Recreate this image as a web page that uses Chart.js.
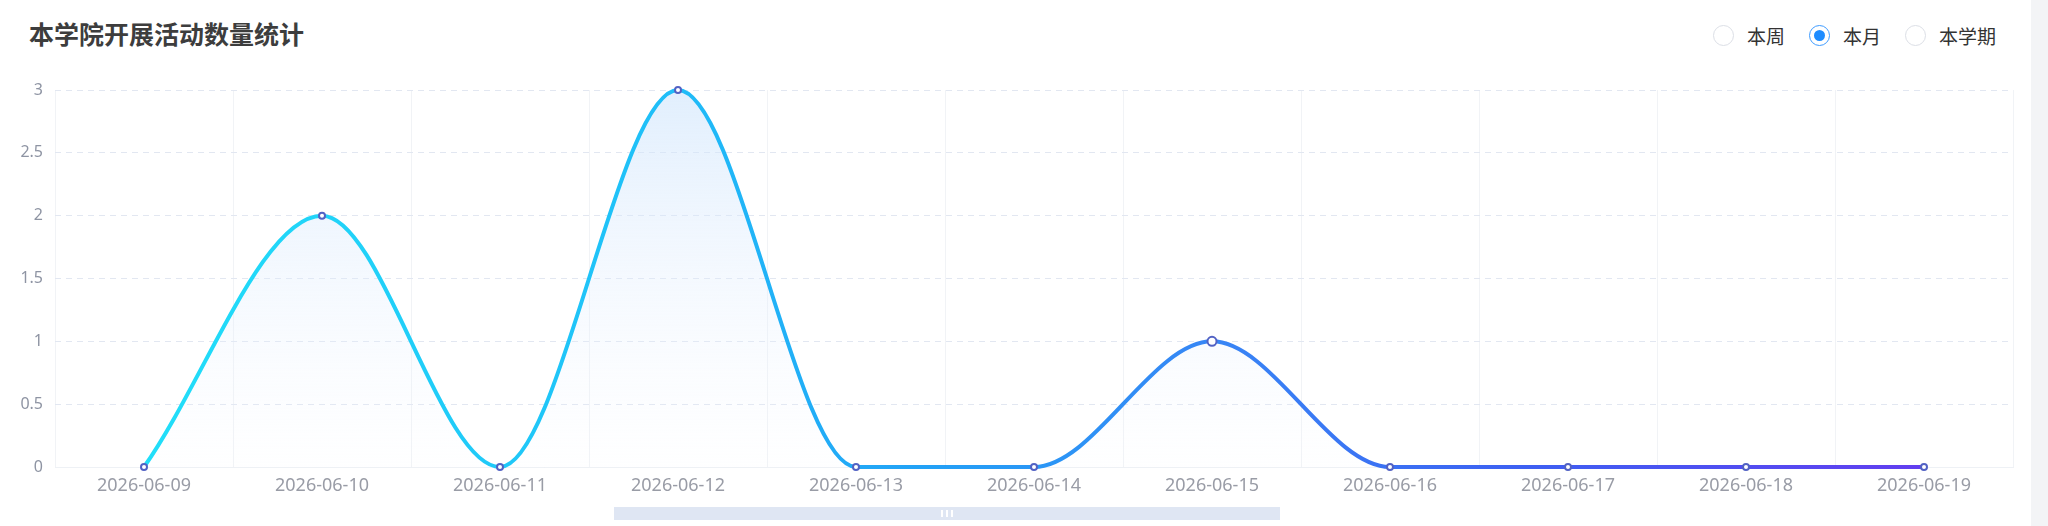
<!DOCTYPE html>
<html>
<head>
<meta charset="utf-8">
<title>本学院开展活动数量统计</title>
<script src="https://cdn.jsdelivr.net/npm/chart.js@4.4.1/dist/chart.umd.min.js"></script>
<style>
    html, body {
        margin: 0;
        padding: 0;
        width: 2048px;
        height: 526px;
        background: #ffffff;
        overflow: hidden;
        font-family: "Noto Sans CJK SC", "Noto Sans", sans-serif;
    }
    .title {
        position: absolute;
        left: 29px;
        top: 16px;
        font-size: 25px;
        font-weight: bold;
        color: #3d3d3d;
        line-height: 34px;
    }
    .radio-group {
        position: absolute;
        top: 22px;
        left: 1713px;
        display: flex;
        align-items: center;
        font-size: 19px;
        color: #333;
    }
    .radio {
        display: flex;
        align-items: center;
        margin-right: 24px;
    }
    .radio .dot {
        width: 21px;
        height: 21px;
        border: 1px solid #dcdfe6;
        border-radius: 50%;
        box-sizing: border-box;
        margin-right: 13px;
        position: relative;
        background: #fff;
    }
    .radio.active .dot {
        border: 1.5px solid #3f9cff;
    }
    .radio.active .dot::after {
        content: '';
        position: absolute;
        left: 50%;
        top: 50%;
        width: 11px;
        height: 11px;
        margin: -5.5px 0 0 -5.5px;
        border-radius: 50%;
        background: #1e8cff;
    }
    .chart-box {
        position: absolute;
        left: 0;
        top: 0;
        width: 2031px;
        height: 526px;
    }
    .side-strip {
        position: absolute;
        left: 2031px;
        top: 0;
        width: 17px;
        height: 526px;
        background: #f3f4f6;
    }
    .zoom-bar {
        position: absolute;
        left: 614px;
        top: 507px;
        width: 666px;
        height: 13px;
        background: #dfe6f3;
        display: flex;
        justify-content: center;
        align-items: center;
    }
    .zoom-bar span {
        width: 2px;
        height: 7px;
        background: #ffffff;
        margin: 0 1.5px;
    }
</style>
</head>
<body>
<div class="title">本学院开展活动数量统计</div>
<div class="radio-group">
    <div class="radio"><span class="dot"></span>本周</div>
    <div class="radio active"><span class="dot"></span>本月</div>
    <div class="radio"><span class="dot"></span>本学期</div>
</div>
<div class="chart-box"><canvas id="activityChart"></canvas></div>
<div class="side-strip"></div>
<div class="zoom-bar"><span></span><span></span><span></span></div>

<script>
// 数据
const dates = ['2026-06-09', '2026-06-10', '2026-06-11', '2026-06-12', '2026-06-13', '2026-06-14',
    '2026-06-15', '2026-06-16', '2026-06-17', '2026-06-18', '2026-06-19'];
const activityCounts = [0, 2, 0, 3, 0, 0, 1, 0, 0, 0, 0];
const yTicks = [0, 0.5, 1, 1.5, 2, 2.5, 3];
const highlightIndex = 6; // 悬停中的点

// 横向渐变线条
function lineGradient(context) {
    const area = context.chart.chartArea;
    if (!area) return '#22b0f7';
    const g = context.chart.ctx.createLinearGradient(area.left, 0, area.right, 0);
    g.addColorStop(0, '#22e4f9');
    g.addColorStop(0.3, '#1fc0f8');
    g.addColorStop(0.45, '#23a0f6');
    g.addColorStop(0.6, '#3884f5');
    g.addColorStop(0.75, '#3d60f2');
    g.addColorStop(1, '#6a36ef');
    return g;
}

// 纵向渐变填充
function areaGradient(context) {
    const area = context.chart.chartArea;
    if (!area) return 'rgba(200,225,250,0.3)';
    const g = context.chart.ctx.createLinearGradient(0, area.top, 0, area.bottom);
    g.addColorStop(0, 'rgba(205,228,252,0.6)');
    g.addColorStop(1, 'rgba(240,245,255,0.05)');
    return g;
}

const ctx = document.getElementById('activityChart').getContext('2d');
new Chart(ctx, {
    type: 'line',
    data: {
        labels: dates,
        datasets: [{
            label: '活动数量',
            data: activityCounts,
            borderColor: lineGradient,
            backgroundColor: areaGradient,
            borderWidth: 4,
            fill: 'origin',
            cubicInterpolationMode: 'monotone',
            pointBackgroundColor: '#ffffff',
            pointBorderColor: '#5262c4',
            pointBorderWidth: 2,
            pointRadius: c => c.dataIndex === highlightIndex ? 4.5 : 3,
            clip: false
        }]
    },
    options: {
        responsive: true,
        maintainAspectRatio: false,
        animation: false,
        layout: {
            padding: { top: 90, right: 18, bottom: 0, left: 0 }
        },
        plugins: {
            legend: { display: false },
            tooltip: { enabled: false }
        },
        scales: {
            x: {
                offset: true,
                grid: {
                    offset: true,
                    color: '#f1f3f6',
                    lineWidth: 1,
                    drawTicks: false
                },
                border: { display: true, color: '#eef1f5' },
                ticks: {
                    padding: 8,
                    color: '#999ca6',
                    font: { family: 'Noto Sans', size: 18 },
                    maxRotation: 0,
                    autoSkip: false
                },
                afterFit: scale => { scale.height = 59; }
            },
            y: {
                min: 0,
                max: 3,
                afterBuildTicks: scale => {
                    scale.ticks = yTicks.map(v => ({ value: v }));
                },
                grid: {
                    color: '#e2e7f1',
                    lineWidth: 1,
                    drawTicks: false
                },
                border: { display: false, dash: [6, 5] },
                ticks: {
                    padding: 12,
                    color: '#8e94a3',
                    font: { family: 'Noto Sans', size: 16 },
                    callback: v => String(v)
                },
                afterFit: scale => { scale.width = 55; }
            }
        }
    }
});
</script>
</body>
</html>
